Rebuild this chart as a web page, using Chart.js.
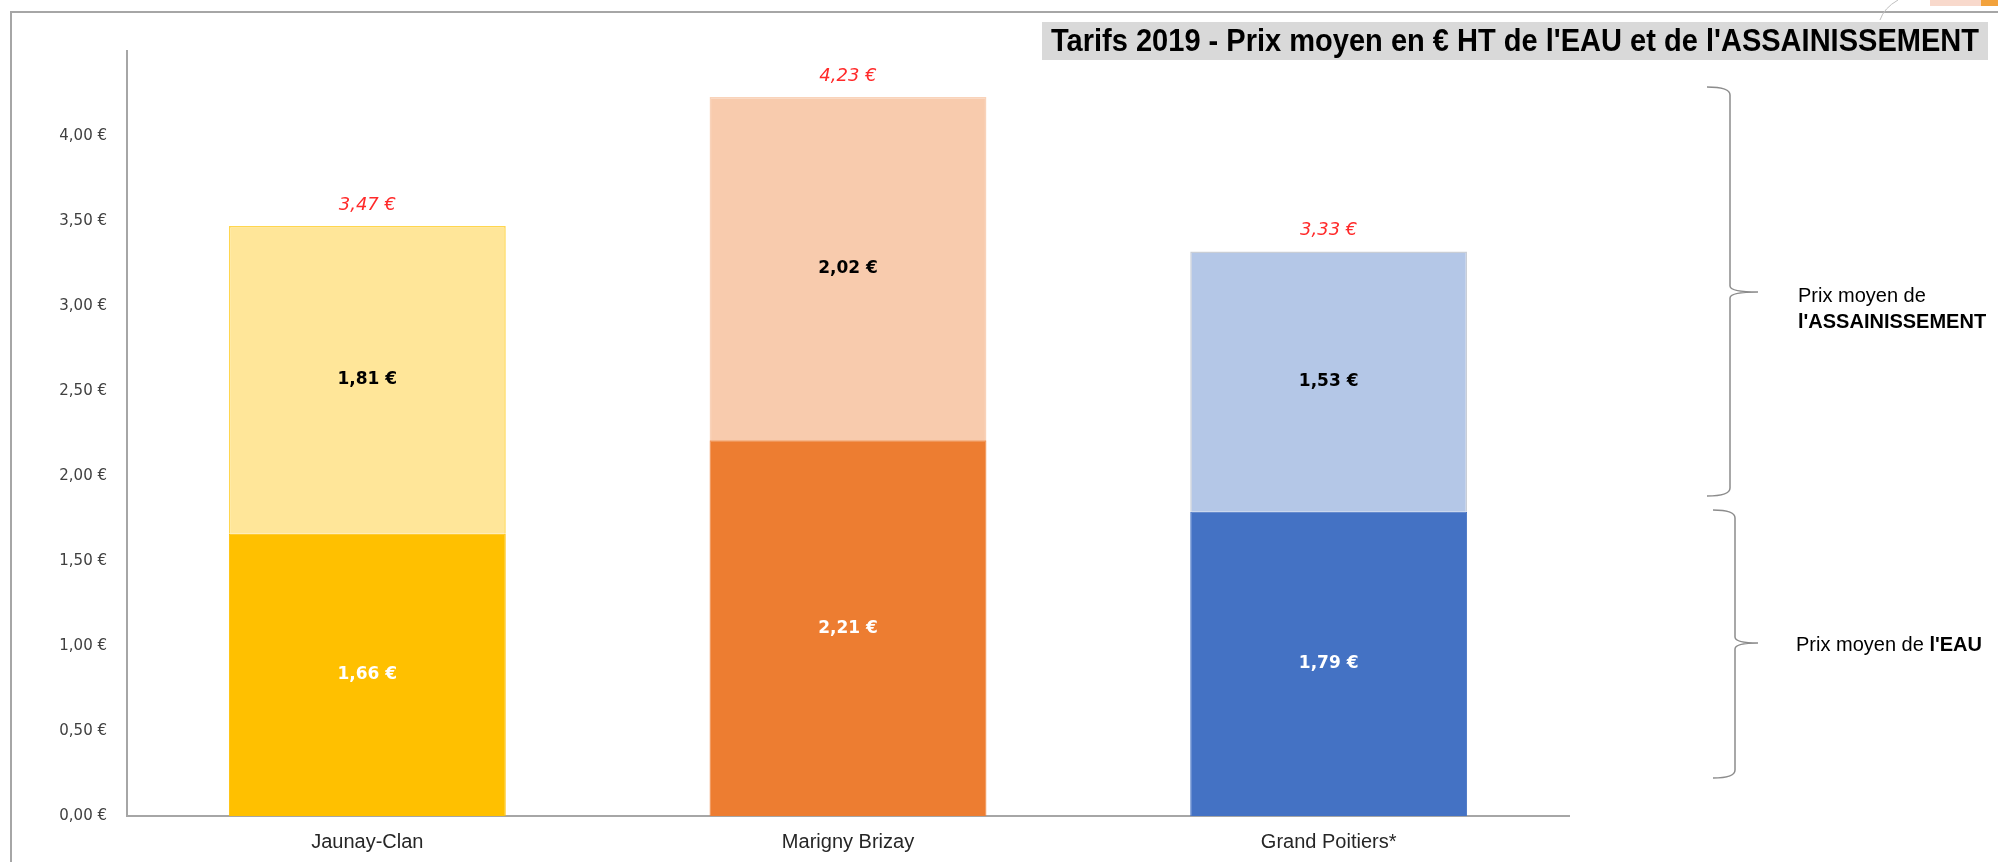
<!DOCTYPE html>
<html>
<head>
<meta charset="utf-8">
<script src="https://cdn.jsdelivr.net/npm/chart.js@4"></script>
<style>
  html, body { margin: 0; padding: 0; background: #fff; }
  canvas { display: block; }
</style>
</head>
<body>
<canvas id="myChart-tarifs" width="1998" height="862"></canvas>
<script>
// donnees
const categories = ['Jaunay-Clan', 'Marigny Brizay', 'Grand Poitiers*'];
const prixEau = [1.66, 2.21, 1.79];
const prixAssainissement = [1.81, 2.02, 1.53];
const prixTotal = [3.47, 4.23, 3.33];
const yTicks = [0, 0.5, 1, 1.5, 2, 2.5, 3, 3.5, 4];

const couleursEau = ['#FFC000', '#ED7D31', '#4472C4'];
const couleursAssainissement = ['#FFE699', '#F8CBAD', '#B4C7E7'];
const bordsAssainissement = ['#FFD64F', '#F9D3BA', '#C9CED6'];

const euro = v => v.toFixed(2).replace('.', ',') + ' €';

// habillage : cadre, titre, accolades, etiquettes
const habillage = {
    id: 'habillage',
    beforeDraw(chart) {
        const c = chart.ctx;
        c.save();
        c.fillStyle = '#fff';
        c.fillRect(0, 0, chart.width, chart.height);
        // cadre
        c.strokeStyle = '#A6A6A6';
        c.lineWidth = 2;
        c.beginPath();
        c.moveTo(11, 862);
        c.lineTo(11, 12);
        c.lineTo(1998, 12);
        c.stroke();
        // bout d'image en haut a droite
        c.fillStyle = '#F8D9CC';
        c.fillRect(1930, 0, 51, 6);
        c.fillStyle = '#F2A23C';
        c.fillRect(1981, 0, 17, 6);
        c.strokeStyle = '#BFBFBF';
        c.lineWidth = 1;
        c.beginPath();
        c.moveTo(1898, 0);
        c.quadraticCurveTo(1884, 8, 1880, 20);
        c.stroke();
        // titre
        c.fillStyle = '#D9D9D9';
        c.fillRect(1042, 22, 946, 38);
        c.fillStyle = '#000';
        c.font = 'bold 32px "Liberation Sans", Arial';
        c.textAlign = 'center';
        c.textBaseline = 'middle';
        c.fillText("Tarifs 2019 - Prix moyen en € HT de l'EAU et de l'ASSAINISSEMENT", 1515, 42, 928);
        c.restore();
    },
    afterDatasetsDraw(chart) {
        const c = chart.ctx;
        c.save();
        c.textAlign = 'center';
        c.textBaseline = 'middle';
        // valeurs dans les barres
        chart.data.datasets.forEach((ds, i) => {
            const meta = chart.getDatasetMeta(i);
            meta.data.forEach((bar, j) => {
                c.font = 'bold 17px "DejaVu Sans", sans-serif';
                c.fillStyle = i === 0 ? '#FFFFFF' : '#000000';
                c.fillText(euro(ds.data[j]), bar.x, (bar.y + bar.base) / 2);
            });
        });
        // totaux en rouge
        const haut = chart.getDatasetMeta(1);
        haut.data.forEach((bar, j) => {
            c.font = 'italic 18px "DejaVu Sans", sans-serif';
            c.fillStyle = '#FF2A2A';
            c.fillText(euro(prixTotal[j]), bar.x, bar.y - 21);
        });
        // accolades
        c.strokeStyle = '#8C8C8C';
        c.lineWidth = 1.5;
        const accolade = (x0, xv, xp, yh, yb, ym) => {
            c.beginPath();
            c.moveTo(x0, yh);
            c.quadraticCurveTo(xv, yh, xv, yh + 8);
            c.lineTo(xv, ym - 6);
            c.quadraticCurveTo(xv, ym, xp, ym);
            c.quadraticCurveTo(xv, ym, xv, ym + 6);
            c.lineTo(xv, yb - 8);
            c.quadraticCurveTo(xv, yb, x0, yb);
            c.stroke();
        };
        accolade(1707, 1730, 1758, 87, 496, 292);
        accolade(1713, 1735, 1758, 510, 778, 643);
        // textes de droite
        c.textAlign = 'left';
        c.fillStyle = '#000';
        c.font = '20px "Liberation Sans", Arial';
        c.fillText('Prix moyen de', 1798, 296);
        c.font = 'bold 20px "Liberation Sans", Arial';
        c.fillText("l'ASSAINISSEMENT", 1798, 322);
        c.font = '20px "Liberation Sans", Arial';
        const debut = 'Prix moyen de ';
        c.fillText(debut, 1796, 645);
        const w = c.measureText(debut).width;
        c.font = 'bold 20px "Liberation Sans", Arial';
        c.fillText("l'EAU", 1796 + w, 645);
        c.restore();
    }
};

const ctx = document.getElementById('myChart-tarifs').getContext('2d');
const myChart = new Chart(ctx, {
    type: 'bar',
    data: {
        labels: categories,
        datasets: [{
            label: "Prix moyen de l'EAU",
            data: prixEau,
            backgroundColor: couleursEau,
            borderColor: couleursEau,
            borderWidth: 1
        }, {
            label: "Prix moyen de l'ASSAINISSEMENT",
            data: prixAssainissement,
            backgroundColor: couleursAssainissement,
            borderColor: bordsAssainissement,
            borderWidth: 1.5
        }]
    },
    options: {
        responsive: false,
        animation: false,
        devicePixelRatio: 1,
        layout: { padding: { top: 51, right: 429, left: 0, bottom: 0 } },
        datasets: { bar: { barPercentage: 0.576, categoryPercentage: 1 } },
        plugins: {
            legend: { display: false },
            tooltip: { enabled: false }
        },
        scales: {
            x: {
                stacked: true,
                grid: { display: false, drawTicks: false },
                border: { display: true, color: '#A6A6A6', width: 2 },
                ticks: {
                    color: '#262626',
                    padding: 14,
                    font: { family: '"Liberation Sans", Arial', size: 20 }
                },
                afterFit(scale) { scale.height = 46; }
            },
            y: {
                stacked: true,
                min: 0,
                max: 4.5,
                grid: { display: false, drawTicks: false },
                border: { display: true, color: '#A6A6A6', width: 2 },
                afterBuildTicks(scale) {
                    scale.ticks = yTicks.map(v => ({ value: v }));
                },
                ticks: {
                    color: '#404040',
                    padding: 20,
                    font: { family: '"DejaVu Sans", sans-serif', size: 15 },
                    callback: v => euro(v)
                },
                afterFit(scale) { scale.width = 127; }
            }
        }
    },
    plugins: [habillage]
});
</script>
</body>
</html>
